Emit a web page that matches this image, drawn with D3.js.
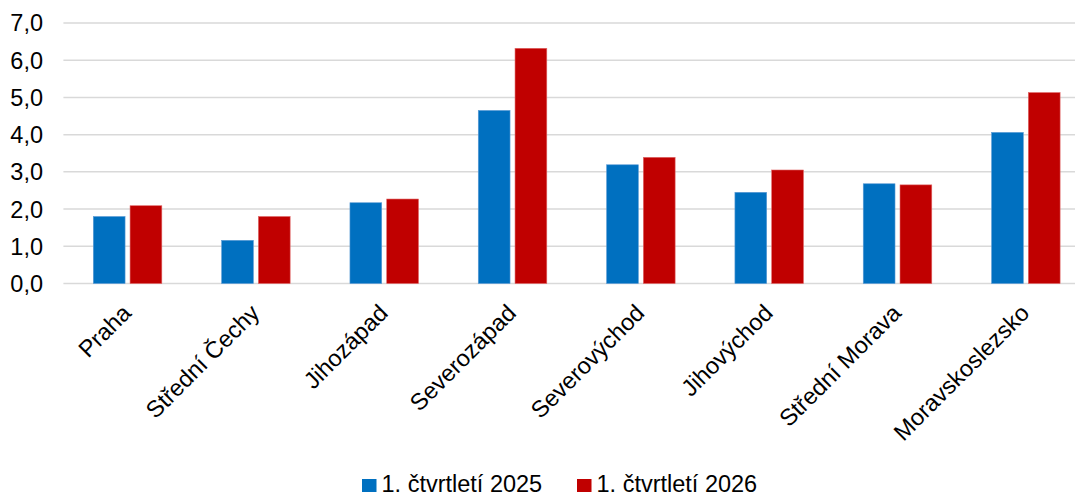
<!DOCTYPE html>
<html>
<head>
<meta charset="utf-8">
<script src="https://cdn.jsdelivr.net/npm/d3@7"></script>
<style>
  body { margin: 0; background: #fff; }
  svg { display: block; font-family: "Liberation Sans", Arial, sans-serif; }
</style>
</head>
<body>
<svg></svg>
<script>
// Data
const regions = ["Praha", "Střední Čechy", "Jihozápad", "Severozápad", "Severovýchod", "Jihovýchod", "Střední Morava", "Moravskoslezsko"];
const seriesNames = ["1. čtvrtletí 2025", "1. čtvrtletí 2026"];
const values2025 = [1.80, 1.16, 2.17, 4.65, 3.19, 2.45, 2.68, 4.06];
const values2026 = [2.09, 1.80, 2.27, 6.32, 3.39, 3.05, 2.65, 5.13];
const yTicks = [0, 1, 2, 3, 4, 5, 6, 7];
const colors = ["#0070C0", "#C00000"];

const width = 1075;
const height = 494;
const margin = { top: 23, right: -15, bottom: 210.5, left: 63.4 };
const fontSize = 23.5;

const svg = d3.select("svg")
    .attr("width", width)
    .attr("height", height);

const x = d3.scaleBand()
    .domain(regions)
    .range([margin.left, width - margin.right])
    .paddingInner(0.466)
    .paddingOuter(0.233);

const xSeries = d3.scaleBand()
    .domain(seriesNames)
    .range([0, x.bandwidth()])
    .paddingInner(0.136);

const y = d3.scaleLinear()
    .domain([0, 7])
    .range([height - margin.bottom, margin.top]);

// Gridlines
svg.append("g")
    .selectAll("line")
    .data(yTicks)
    .enter().append("line")
    .attr("x1", margin.left)
    .attr("x2", width - margin.right)
    .attr("y1", d => y(d))
    .attr("y2", d => y(d))
    .attr("stroke", "#D9D9D9")
    .attr("stroke-width", 1.5);

// Y labels
svg.append("g")
    .selectAll("text")
    .data(yTicks)
    .enter().append("text")
    .attr("x", 43)
    .attr("y", d => y(d))
    .attr("dy", "0.36em")
    .attr("text-anchor", "end")
    .attr("font-size", fontSize)
    .attr("fill", "#000")
    .text(d => d3.format(".1f")(d).replace(".", ","));

// Bars
const rows = regions.map((r, i) => ({ region: r, vals: [values2025[i], values2026[i]] }));

const group = svg.append("g")
    .selectAll("g")
    .data(rows)
    .enter().append("g")
    .attr("transform", d => `translate(${x(d.region)},0)`);

group.selectAll("rect")
    .data(d => d.vals.map((v, j) => ({ name: seriesNames[j], value: v, color: colors[j] })))
    .enter().append("rect")
    .attr("x", d => xSeries(d.name))
    .attr("width", xSeries.bandwidth())
    .attr("y", d => y(d.value))
    .attr("height", d => y(0) - y(d.value))
    .attr("fill", d => d.color)
    .attr("stroke", d => d.color === colors[0] ? "#5B9BD5" : "#E06666")
    .attr("stroke-width", 0.6);

// X labels
svg.append("g")
    .selectAll("text")
    .data(regions)
    .enter().append("text")
    .attr("text-anchor", "end")
    .attr("font-size", fontSize)
    .attr("fill", "#000")
    .attr("transform", d => `translate(${x(d) + x.bandwidth() / 2 + 5},${y(0) + 31}) rotate(-45)`)
    .text(d => d);

// Legend
const legend = svg.append("g");
const legendX = [362, 577];
seriesNames.forEach((name, i) => {
    legend.append("rect")
        .attr("x", legendX[i])
        .attr("y", 479)
        .attr("width", 14.5)
        .attr("height", 13)
        .attr("fill", colors[i]);
    legend.append("text")
        .attr("x", legendX[i] + 19.5)
        .attr("y", 491.5)
        .attr("font-size", fontSize)
        .attr("fill", "#000")
        .text(name);
});
</script>
</body>
</html>
